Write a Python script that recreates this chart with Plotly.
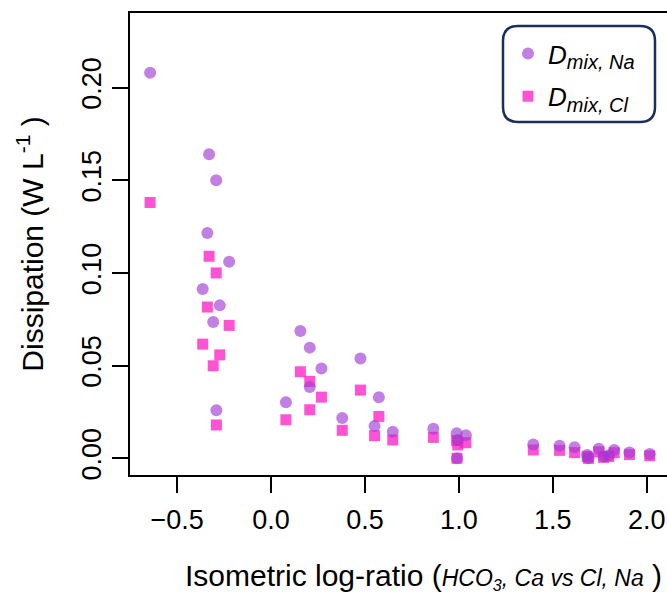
import plotly.graph_objects as go

# Isometric log-ratio (x) for each sample
ilr = [-0.644, -0.330, -0.292, -0.339, -0.223, -0.364, -0.273, -0.308, -0.291,
       0.079, 0.156, 0.206, 0.268, 0.206, 0.476, 0.574, 0.379, 0.551, 0.648,
       0.864, 0.988, 0.994, 0.990, 1.037, 1.396, 1.536, 1.616, 1.683, 1.690,
       1.745, 1.770, 1.798, 1.827, 1.908, 2.016]

# Dissipation, Na mixing (W/L)
d_mix_na = [0.208, 0.164, 0.150, 0.1215, 0.106, 0.0913, 0.0825, 0.0735, 0.0259,
            0.0302, 0.0687, 0.0597, 0.0485, 0.0384, 0.0539, 0.0329, 0.0217, 0.0174, 0.0143,
            0.0160, 0.0135, 0.0099, 0.0, 0.0124, 0.0075, 0.0068, 0.0060, 0.0018, 0.0,
            0.0052, 0.0010, 0.0016, 0.0045, 0.0031, 0.0023]

# Dissipation, Cl mixing (W/L)
d_mix_cl = [0.138, 0.109, 0.100, 0.0816, 0.0717, 0.0616, 0.0558, 0.0499, 0.0180,
            0.0208, 0.0467, 0.0415, 0.0330, 0.0262, 0.0368, 0.0226, 0.0151, 0.0122, 0.0099,
            0.0113, 0.0095, 0.0072, 0.0, 0.0084, 0.0045, 0.0043, 0.0031, 0.0010, 0.0,
            0.0035, 0.0005, 0.0010, 0.0030, 0.0020, 0.0014]

y_ticks = [0.00, 0.05, 0.10, 0.15, 0.20]
y_tick_text = ["0.00", "0.05", "0.10", "0.15", "0.20"]
x_ticks = [-0.5, 0.0, 0.5, 1.0, 1.5, 2.0]
x_tick_text = ["\u22120.5", "0.0", "0.5", "1.0", "1.5", "2.0"]

FONT = "Liberation Sans, Arial, Helvetica, sans-serif"

fig = go.Figure()
fig.add_trace(go.Scatter(
    x=ilr, y=d_mix_cl, mode="markers",
    name="<i>D</i><sub><i><span style='font-size:20px'>mix, Cl</span></i></sub>",
    marker=dict(symbol="square", size=11, color="#FF1AC6", opacity=0.75, line=dict(width=0)),
    legendrank=2, legendgroup="cl",
))
fig.add_trace(go.Scatter(
    x=ilr, y=d_mix_na, mode="markers",
    name="<i>D</i><sub><i><span style='font-size:20px'>mix, Na</span></i></sub>",
    marker=dict(symbol="circle", size=12, color="#A03CD2", opacity=0.65, line=dict(width=0)),
    legendrank=1, legendgroup="na",
))

# rounded legend box (paper coordinates)
W, H = 667, 594
L, R, T, B = 130, 0, 13, 119
pw, ph = W - L - R, H - T - B
def px2paper(px, py):
    return (px - L) / pw, (H - B - py) / ph
x0, y1 = px2paper(503, 26)
x1, y0 = px2paper(655, 122)
rx, ry = 15 / pw, 15 / ph
path = (f"M {x0+rx},{y1} L {x1-rx},{y1} Q {x1},{y1} {x1},{y1-ry} "
        f"L {x1},{y0+ry} Q {x1},{y0} {x1-rx},{y0} L {x0+rx},{y0} "
        f"Q {x0},{y0} {x0},{y0+ry} L {x0},{y1-ry} Q {x0},{y1} {x0+rx},{y1} Z")
fig.add_shape(type="path", path=path, xref="paper", yref="paper",
              line=dict(color="#1B2F5B", width=2.5), fillcolor="rgba(255,255,255,0)", layer="above")

# x-axis title as annotation (the original plot area extends past the right edge)
tx, ty = px2paper(423, 576)
fig.add_annotation(
    x=tx, y=ty, xref="paper", yref="paper", xanchor="center", yanchor="middle",
    showarrow=False,
    text="Isometric log-ratio (<i><span style='font-size:23px'>HCO<sub>3</sub>, Ca vs Cl, Na</span></i> )",
    font=dict(size=30, family=FONT, color="black"),
)

lx, ly = px2paper(508, 30)
fig.update_layout(
    width=W, height=H,
    margin=dict(l=L, r=R, t=T, b=B, pad=0),
    paper_bgcolor="white", plot_bgcolor="white",
    font=dict(family=FONT, color="black", size=25),
    showlegend=True,
    legend=dict(x=lx, y=ly, xanchor="left", yanchor="top",
                bgcolor="rgba(0,0,0,0)", borderwidth=0,
                font=dict(size=26, family=FONT), tracegroupgap=6),
    xaxis=dict(range=[-0.751, 2.108], tickvals=x_ticks, ticktext=x_tick_text,
               showgrid=False, zeroline=False, showline=True, linecolor="black",
               linewidth=2, mirror=True, ticks="outside", ticklen=16, tickwidth=1.5,
               tickcolor="black", tickfont=dict(size=27), ticklabelstandoff=4),
    yaxis=dict(range=[-0.0090, 0.2402], tickvals=y_ticks, ticktext=y_tick_text,
               showgrid=False, zeroline=False, showline=True, linecolor="black",
               linewidth=2, mirror=False, ticks="outside", ticklen=16, tickwidth=1.5,
               tickcolor="black", tickangle=-90, tickfont=dict(size=27),
               title=dict(text="Dissipation (W L<sup>-1</sup> )", font=dict(size=30), standoff=25)),
)

fig.write_html("out.html", config={"displayModeBar": False},
               post_script="document.body.style.margin='0';document.body.style.overflow='hidden';")
